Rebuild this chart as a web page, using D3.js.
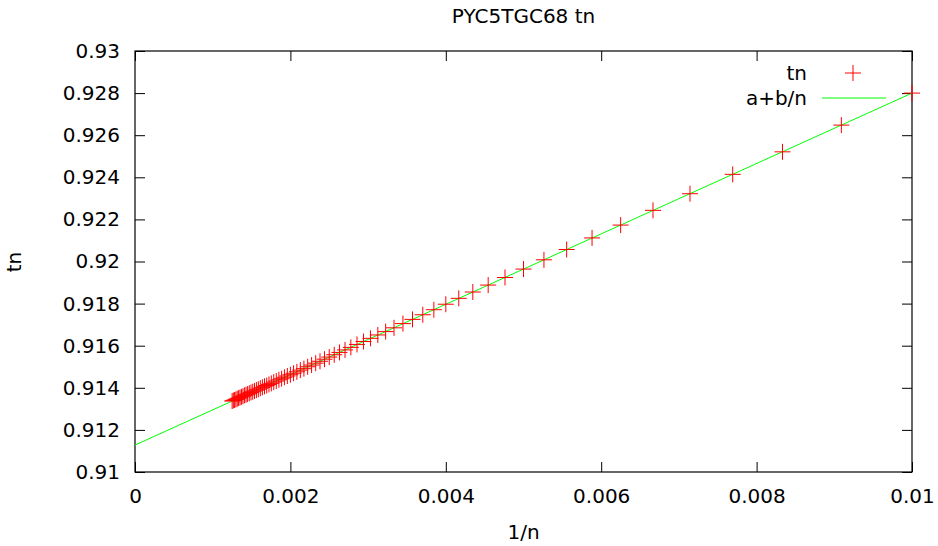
<!DOCTYPE html>
<html>
<head>
<meta charset="utf-8">
<script src="https://cdn.jsdelivr.net/npm/d3@7"></script>
<style>
  body { margin: 0; background: #fff; }
  text { font-family: 'DejaVu Sans', sans-serif; fill: #000; }
</style>
</head>
<body>
<div id="chart"></div>
<script>
const margin = { top: 51, left: 135, right: 26, bottom: 74 }

const height = 546 - margin.top - margin.bottom
const width = 938 - margin.left - margin.right

// data: n values (x = 1/n) and measured tn
const nValues = [
  100, 110, 120, 130, 140, 150, 160, 170, 180, 190,
  200, 210, 220, 230, 240, 250, 260, 270, 280, 290,
  300, 310, 320, 330, 340, 350, 360, 370, 380, 390,
  400, 410, 420, 430, 440, 450, 460, 470, 480, 490,
  500, 510, 520, 530, 540, 550, 560, 570, 580, 590,
  600, 610, 620, 630, 640, 650, 660, 670, 680, 690,
  700, 710, 720, 730, 740, 750, 760, 770, 780, 790, 800
]
const tnValues = [
  0.92800, 0.92648, 0.92521, 0.92414, 0.92322, 0.92243, 0.92173, 0.92112, 0.92057, 0.92008,
  0.91964, 0.91924, 0.91888, 0.91855, 0.91825, 0.91797, 0.91771, 0.91747, 0.91725, 0.91705,
  0.91685, 0.91667, 0.91651, 0.91635, 0.91620, 0.91606, 0.91592, 0.91580, 0.91568, 0.91557,
  0.91546, 0.91536, 0.91526, 0.91517, 0.91508, 0.91500, 0.91491, 0.91484, 0.91476, 0.91469,
  0.91462, 0.91456, 0.91450, 0.91443, 0.91438, 0.91432, 0.91427, 0.91421, 0.91416, 0.91411,
  0.91407, 0.91402, 0.91398, 0.91393, 0.91389, 0.91385, 0.91381, 0.91378, 0.91374, 0.91370,
  0.91367, 0.91364, 0.91360, 0.91357, 0.91354, 0.91351, 0.91348, 0.91345, 0.91342, 0.91340, 0.91337
]

// fit a + b/n
const fitA = 0.91128
const fitB = 1.672

const xTicks = [0, 0.002, 0.004, 0.006, 0.008, 0.01]
const yTicks = [0.91, 0.912, 0.914, 0.916, 0.918, 0.92, 0.922, 0.924, 0.926, 0.928, 0.93]

const svg = d3
  .select('#chart')
  .append('svg')
  .attr('height', 546)
  .attr('width', 938)

svg.append('rect').attr('width', 938).attr('height', 546).attr('fill', '#fff')

const g = svg
  .append('g')
  .attr('transform', 'translate(' + margin.left + ',' + margin.top + ')')

const x = d3.scaleLinear().domain([0, 0.01]).range([0, width])
const y = d3.scaleLinear().domain([0.91, 0.93]).range([height, 0])

const fmt = d => (d === 0 ? '0' : String(+d.toFixed(3)))
const tickLen = 10

// axes (gnuplot style: ticks inward on all sides)
const xAxis = g
  .append('g')
  .attr('transform', 'translate(0,' + height + ')')
  .call(d3.axisBottom(x).tickValues(xTicks).tickFormat(fmt).tickSize(-tickLen).tickPadding(17))
const xAxisTop = g
  .append('g')
  .call(d3.axisTop(x).tickValues(xTicks).tickFormat('').tickSize(-tickLen))
const yAxis = g
  .append('g')
  .call(d3.axisLeft(y).tickValues(yTicks).tickFormat(fmt).tickSize(-tickLen).tickPadding(15))
const yAxisRight = g
  .append('g')
  .attr('transform', 'translate(' + width + ',0)')
  .call(d3.axisRight(y).tickValues(yTicks).tickFormat('').tickSize(-tickLen))

;[xAxis, xAxisTop, yAxis, yAxisRight].forEach(a => {
  a.select('.domain').remove()
  a.selectAll('line').attr('stroke', '#000')
  a.selectAll('text').attr('font-size', 20).attr('font-family', 'DejaVu Sans')
})

// border
g.append('rect')
  .attr('width', width)
  .attr('height', height)
  .attr('fill', 'none')
  .attr('stroke', '#000')
  .attr('stroke-width', 1.2)

// fit line
const line = d3.line().x(d => x(d)).y(d => y(fitA + fitB * d))
g.append('path')
  .datum([0, 0.01])
  .attr('d', line)
  .attr('fill', 'none')
  .attr('stroke', '#00ff00')
  .attr('stroke-width', 1)

// points
const points = nValues.map((n, i) => ({ x: 1 / n, y: tnValues[i] }))
const cross = 'M-8,0H8M0,-8V8'
g.selectAll('.pt')
  .data(points)
  .enter()
  .append('path')
  .attr('class', 'pt')
  .attr('transform', d => `translate(${x(d.x)},${y(d.y)})`)
  .attr('d', cross)
  .attr('stroke', '#ff0000')
  .attr('stroke-width', 1)

// title & labels
svg.append('text')
  .attr('x', margin.left + width / 2)
  .attr('y', 23)
  .attr('text-anchor', 'middle')
  .attr('font-size', 20)
  .text('PYC5TGC68 tn')

svg.append('text')
  .attr('x', margin.left + width / 2)
  .attr('y', 539)
  .attr('text-anchor', 'middle')
  .attr('font-size', 20)
  .text('1/n')

svg.append('text')
  .attr('transform', 'translate(21,262) rotate(-90)')
  .attr('text-anchor', 'middle')
  .attr('font-size', 20)
  .text('tn')

// legend
const legend = svg.append('g')
legend.append('text')
  .attr('x', 807).attr('y', 80)
  .attr('text-anchor', 'end')
  .attr('font-size', 20)
  .text('tn')
legend.append('path')
  .attr('transform', 'translate(853,73)')
  .attr('d', cross)
  .attr('stroke', '#ff0000')
legend.append('text')
  .attr('x', 807).attr('y', 105)
  .attr('text-anchor', 'end')
  .attr('font-size', 20)
  .text('a+b/n')
legend.append('line')
  .attr('x1', 822).attr('x2', 886)
  .attr('y1', 98).attr('y2', 98)
  .attr('stroke', '#00ff00')
</script>
</body>
</html>
